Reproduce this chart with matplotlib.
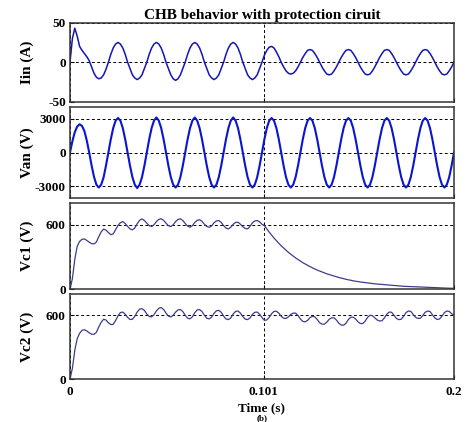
import matplotlib
matplotlib.use('Agg')
import matplotlib.pyplot as plt
import numpy as np

plt.rcParams['font.family'] = ['Liberation Serif', 'DejaVu Serif']
plt.rcParams['font.weight'] = 'bold'
plt.rcParams['axes.unicode_minus'] = False

# input current (A), sampled every 1.25 ms
iin = [0, 30, 43, 33, 20, 15, 11, 7, 2, -6, -14, -19, -21, -20, -16, -9,
       0, 10, 18, 23, 25, 23, 18, 10, 0, -8, -16, -20, -22, -20, -16, -8,
       0, 10, 18, 23, 25, 23, 18, 10, 0, -8, -16, -21, -23, -21, -16, -8,
       0, 10, 18, 23, 25, 23, 18, 10, 0, -8, -16, -20, -22, -20, -16, -8,
       0, 10, 18, 23, 25, 23, 18, 10, 0, -8, -16, -20, -22, -20, -16, -8,
       0, 9, 15, 19, 20, 18, 13, 7, 0, -6, -11, -14, -15, -14, -11, -6,
       0, 6, 11, 15, 16, 15, 11, 6, 0, -6, -11, -15, -16, -15, -11, -6,
       0, 6, 11, 15, 16, 15, 11, 6, 0, -6, -11, -15, -16, -15, -11, -6,
       0, 6, 11, 15, 16, 15, 11, 6, 0, -6, -11, -15, -16, -15, -11, -6,
       0, 6, 11, 15, 16, 15, 11, 6, 0, -6, -11, -15, -16, -15, -11, -6,
       0]

# output phase voltage (V), sampled every 1.25 ms
van = [0, 1000, 1800, 2300, 2500, 2350, 1900, 1050, 0, -1150, -2150, -2850, -3100, -2850, -2200, -1150,
       0, 1170, 2160, 2820, 3050, 2820, 2160, 1170, 0, -1170, -2180, -2850, -3150, -2850, -2180, -1170,
       0, 1170, 2160, 2820, 3100, 2820, 2160, 1170, 0, -1170, -2180, -2850, -3100, -2850, -2180, -1170,
       0, 1170, 2160, 2820, 3100, 2820, 2160, 1170, 0, -1170, -2180, -2850, -3100, -2850, -2180, -1170,
       0, 1170, 2160, 2820, 3100, 2820, 2160, 1170, 0, -1170, -2180, -2850, -3100, -2850, -2180, -1170,
       0, 1170, 2160, 2820, 3050, 2820, 2160, 1170, 0, -1170, -2180, -2850, -3100, -2850, -2180, -1170,
       0, 1170, 2160, 2820, 3050, 2820, 2160, 1170, 0, -1170, -2180, -2850, -3100, -2850, -2180, -1170,
       0, 1170, 2160, 2820, 3050, 2820, 2160, 1170, 0, -1170, -2180, -2850, -3100, -2850, -2180, -1170,
       0, 1170, 2160, 2820, 3050, 2820, 2160, 1170, 0, -1170, -2180, -2850, -3100, -2850, -2180, -1170,
       0, 1170, 2160, 2820, 3050, 2820, 2160, 1170, 0, -1170, -2180, -2850, -3100, -2850, -2180, -1170,
       0]

# capacitor voltages (V), sampled every 1.25 ms
vc1 = [0, 100, 280, 400, 445, 465, 468, 455, 438, 425,
       422, 440, 490, 535, 560, 550, 528, 508, 515, 555,
       595, 620, 630, 612, 585, 562, 553, 570, 610, 642,
       655, 640, 615, 592, 584, 600, 630, 650, 656, 642,
       615, 592, 584, 600, 630, 650, 656, 640, 612, 588,
       577, 592, 622, 642, 647, 632, 605, 584, 577, 590,
       618, 636, 640, 622, 592, 570, 562, 578, 605, 622,
       624, 605, 582, 566, 562, 585, 618, 636, 640, 628,
       605,
       593, 562, 532, 504, 477, 452, 428, 405, 384, 364,
       344, 326, 309, 292, 277, 262, 248, 235, 223, 211,
       200, 189, 179, 170, 161, 152, 144, 137, 129, 122,
       116, 110, 104, 98, 93, 88, 84, 79, 75, 71,
       68, 65, 62, 59, 56, 53, 51, 49, 47, 45,
       43, 41, 39, 37, 35, 33, 31, 30, 28, 27,
       25, 24, 23, 22, 21, 20, 19, 18, 17, 16,
       15, 14, 14, 13, 12, 12, 11, 10, 10, 9]

vc2 = [0, 100, 270, 380, 430, 458, 464, 452, 435, 422,
       420, 440, 490, 535, 562, 555, 530, 512, 515, 550,
       595, 625, 630, 610, 580, 560, 562, 590, 630, 658,
       662, 645, 612, 588, 585, 605, 640, 666, 672, 655,
       620, 592, 584, 600, 630, 650, 654, 635, 600, 572,
       566, 585, 625, 650, 654, 635, 600, 572, 566, 582,
       618, 642, 646, 628, 592, 565, 559, 575, 612, 636,
       640, 620, 588, 563, 559, 575, 608, 628, 630, 610,
       578,
       552, 556, 580, 615, 636, 638, 620, 590, 572, 570,
       585, 608, 620, 620, 598, 565, 542, 538, 552, 578,
       590, 585, 560, 530, 516, 516, 535, 562, 576, 576,
       555, 525, 508, 506, 525, 560, 582, 582, 565, 538,
       522, 522, 545, 580, 600, 596, 575, 555, 546, 548,
       575, 610, 630, 628, 600, 570, 559, 562, 590, 625,
       640, 636, 608, 580, 570, 572, 598, 628, 640, 635,
       605, 575, 560, 565, 592, 625, 640, 636, 615, 600]

x_ticks = [0, 0.101, 0.2]
x_labels = ['0', '0.101', '0.2']

t_a = np.linspace(0, 0.2, len(iin))
t_b = np.linspace(0, 0.2, len(vc1))

fig = plt.figure(figsize=(4.69, 4.22), dpi=100)
W, H = 469, 422


def make_axes(top, bot):
    return fig.add_axes([70 / W, 1 - bot / H, 384 / W, (bot - top) / H])


panels = [
    (make_axes(22.7, 101.7), t_a, iin, 'Iin (A)', (-50, 50), [-50, 0, 50], '#1414b8', 1.1),
    (make_axes(107.3, 197.7), t_a, van, 'Van (V)', (-4000, 4000), [-3000, 0, 3000], '#0a14d2', 1.5),
    (make_axes(203.3, 289.3), t_b, vc1, 'Vc1 (V)', (0, 800), [0, 600], '#3c3c92', 0.9),
    (make_axes(294, 379), t_b, vc2, 'Vc2 (V)', (0, 800), [0, 600], '#3c3c92', 0.9),
]

for i, (ax, t, y, label, ylim, yticks, color, lw) in enumerate(panels):
    ax.plot(t, y, color=color, lw=lw)
    ax.set_xlim(0, 0.2)
    ax.set_ylim(*ylim)
    ax.set_xticks(x_ticks)
    ax.set_yticks(yticks)
    ax.set_yticklabels([str(v) for v in yticks])
    ax.grid(True, color='black', ls=(0, (3, 2.5)), lw=0.7)
    ax.tick_params(direction='in', length=3, width=0.8, labelsize=9.5, pad=3)
    for s in ax.spines.values():
        s.set_linewidth(1.1)
        s.set_color('#333333')
    ax.set_ylabel(label, fontsize=11, fontweight='bold')
    ax.yaxis.set_label_coords(-0.095, 0.5)
    if i < 3:
        ax.tick_params(labelbottom=False)
    else:
        ax.set_xticklabels(x_labels)
        ax.tick_params(axis='x', pad=5)
        ax.set_xlabel('Time (s)', fontsize=9.5, fontweight='bold', labelpad=3)

panels[0][0].set_title('CHB behavior with protection ciruit', fontsize=11,
                       fontweight='bold', pad=3)
fig.text(0.559, 0.0, '(b)', ha='center', va='bottom', fontsize=6.5)

fig.savefig('out.png', dpi=100)
